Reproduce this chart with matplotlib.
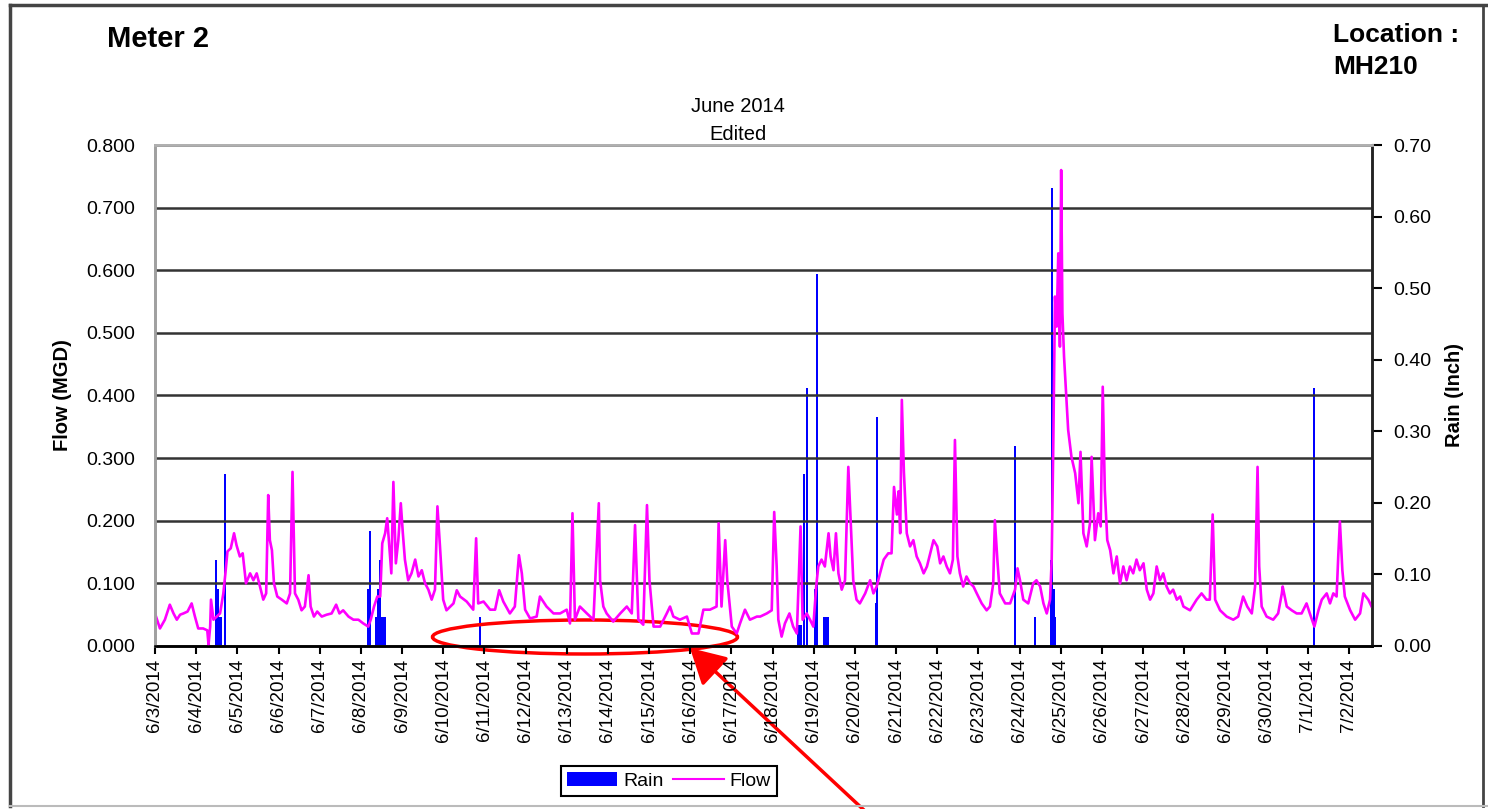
import matplotlib
matplotlib.use("Agg")
import matplotlib.pyplot as plt
from matplotlib.patches import Ellipse, FancyArrowPatch, Patch
from matplotlib.lines import Line2D

plt.rcParams['font.family'] = ['Liberation Sans', 'DejaVu Sans']

# days since 6/3/2014 00:00
flow_day = [
    0.00, 0.12, 0.24, 0.36, 0.45, 0.53, 0.61, 0.69, 0.79, 0.89, 0.97, 1.05, 1.17, 1.27, 1.30,
    1.34, 1.36, 1.42, 1.50, 1.58, 1.66, 1.71, 1.76, 1.84, 1.92, 1.98, 2.06, 2.13, 2.21, 2.31,
    2.39, 2.47, 2.55, 2.63, 2.70, 2.75, 2.79, 2.84, 2.89, 2.97, 3.08, 3.20, 3.28, 3.34, 3.40,
    3.48, 3.56, 3.64, 3.73, 3.78, 3.86, 3.94, 4.05, 4.17, 4.29, 4.40, 4.48, 4.57, 4.70, 4.82,
    4.94, 5.06, 5.18, 5.24, 5.32, 5.40, 5.47, 5.52, 5.59, 5.64, 5.69, 5.74, 5.79, 5.85, 5.91,
    5.97, 6.02, 6.07, 6.15, 6.23, 6.32, 6.40, 6.48, 6.56, 6.64, 6.72, 6.80, 6.86, 6.92, 7.00,
    7.08, 7.25, 7.33, 7.41, 7.57, 7.73, 7.80, 7.85, 7.98, 8.14, 8.26, 8.36, 8.46, 8.62, 8.74,
    8.84, 8.91, 8.99, 9.11, 9.27, 9.35, 9.51, 9.68, 9.84, 10.00, 10.08, 10.14, 10.20, 10.32,
    10.49, 10.65, 10.78, 10.81, 10.89, 10.97, 11.13, 11.30, 11.46, 11.58, 11.66, 11.74, 11.86,
    11.95, 12.01, 12.11, 12.27, 12.43, 12.51, 12.59, 12.75, 12.92, 13.04, 13.20, 13.32, 13.48,
    13.64, 13.69, 13.76, 13.85, 13.90, 14.01, 14.13, 14.21, 14.33, 14.45, 14.62, 14.70, 14.86,
    14.98, 15.04, 15.10, 15.14, 15.22, 15.30, 15.41, 15.50, 15.59, 15.68, 15.73, 15.83, 15.91,
    15.99, 16.06, 16.11, 16.19, 16.27, 16.36, 16.41, 16.48, 16.54, 16.60, 16.68, 16.76, 16.84,
    16.90, 16.96, 17.04, 17.12, 17.25, 17.37, 17.45, 17.53, 17.61, 17.70, 17.81, 17.89, 17.95,
    18.02, 18.06, 18.10, 18.14, 18.19, 18.26, 18.34, 18.42, 18.50, 18.58, 18.67, 18.75, 18.83,
    18.91, 19.00, 19.07, 19.15, 19.23, 19.31, 19.38, 19.43, 19.49, 19.55, 19.63, 19.71, 19.80,
    19.88, 19.96, 20.08, 20.20, 20.28, 20.36, 20.40, 20.46, 20.52, 20.65, 20.77, 20.89, 20.95,
    21.01, 21.09, 21.21, 21.33, 21.41, 21.50, 21.58, 21.66, 21.74, 21.78, 21.82, 21.86, 21.90,
    21.94, 21.98, 22.01, 22.04, 22.08, 22.13, 22.18, 22.26, 22.35, 22.43, 22.48, 22.55, 22.63,
    22.71, 22.75, 22.83, 22.91, 22.97, 23.02, 23.07, 23.13, 23.20, 23.28, 23.36, 23.44, 23.52,
    23.60, 23.68, 23.76, 23.84, 23.92, 24.01, 24.09, 24.17, 24.25, 24.33, 24.41, 24.49, 24.57,
    24.65, 24.73, 24.82, 24.90, 24.98, 25.14, 25.30, 25.42, 25.54, 25.62, 25.69, 25.75, 25.87,
    26.03, 26.19, 26.31, 26.43, 26.53, 26.64, 26.72, 26.78, 26.82, 26.88, 27.00, 27.16, 27.28,
    27.37, 27.39, 27.49, 27.61, 27.73, 27.85, 27.97, 28.05, 28.16, 28.26, 28.34, 28.46, 28.54,
    28.62, 28.70, 28.74, 28.78, 28.84, 28.90, 29.03, 29.15, 29.27, 29.35, 29.47, 29.55,
]
flow_mgd = [
    0.052, 0.028, 0.042, 0.066, 0.052, 0.042, 0.050, 0.052, 0.055, 0.068, 0.047, 0.028, 0.028, 0.025, 0.002,
    0.031, 0.074, 0.042, 0.047, 0.052, 0.084, 0.116, 0.151, 0.156, 0.180, 0.161, 0.143, 0.148, 0.100, 0.116,
    0.105, 0.116, 0.095, 0.074, 0.084, 0.241, 0.169, 0.153, 0.100, 0.079, 0.074, 0.068, 0.084, 0.278, 0.084,
    0.074, 0.057, 0.063, 0.113, 0.063, 0.047, 0.055, 0.047, 0.050, 0.052, 0.066, 0.052, 0.057, 0.047, 0.042,
    0.042, 0.036, 0.031, 0.042, 0.063, 0.079, 0.079, 0.164, 0.180, 0.204, 0.159, 0.116, 0.262, 0.132, 0.169,
    0.228, 0.180, 0.138, 0.105, 0.116, 0.138, 0.111, 0.121, 0.100, 0.090, 0.074, 0.090, 0.223, 0.161, 0.074,
    0.057, 0.068, 0.089, 0.079, 0.071, 0.058, 0.172, 0.068, 0.071, 0.058, 0.058, 0.089, 0.071, 0.052, 0.063,
    0.145, 0.116, 0.058, 0.044, 0.047, 0.079, 0.063, 0.052, 0.052, 0.058, 0.036, 0.212, 0.042, 0.063,
    0.052, 0.042, 0.228, 0.105, 0.063, 0.052, 0.039, 0.052, 0.063, 0.052, 0.193, 0.042, 0.034,
    0.225, 0.105, 0.031, 0.031, 0.052, 0.063, 0.047, 0.042, 0.047, 0.020, 0.020, 0.058, 0.058,
    0.063, 0.196, 0.063, 0.169, 0.105, 0.031, 0.020, 0.036, 0.058, 0.042, 0.047, 0.047, 0.052,
    0.057, 0.214, 0.127, 0.042, 0.015, 0.036, 0.052, 0.031, 0.020, 0.191, 0.042, 0.052, 0.042,
    0.031, 0.095, 0.127, 0.138, 0.127, 0.180, 0.143, 0.121, 0.180, 0.116, 0.090, 0.105, 0.286,
    0.196, 0.105, 0.074, 0.068, 0.084, 0.105, 0.084, 0.095, 0.116, 0.138, 0.148, 0.148, 0.254,
    0.210, 0.247, 0.180, 0.393, 0.278, 0.180, 0.159, 0.169, 0.143, 0.132, 0.116, 0.127, 0.148,
    0.169, 0.159, 0.132, 0.143, 0.127, 0.116, 0.138, 0.329, 0.143, 0.116, 0.095, 0.111, 0.100,
    0.095, 0.084, 0.068, 0.057, 0.063, 0.100, 0.201, 0.138, 0.084, 0.068, 0.068, 0.090, 0.124,
    0.105, 0.074, 0.068, 0.100, 0.105, 0.095, 0.068, 0.052, 0.074, 0.138, 0.329, 0.558, 0.510,
    0.627, 0.478, 0.760, 0.531, 0.462, 0.403, 0.345, 0.302, 0.276, 0.228, 0.310, 0.180, 0.159,
    0.196, 0.302, 0.169, 0.212, 0.191, 0.414, 0.249, 0.169, 0.153, 0.116, 0.143, 0.100, 0.127,
    0.105, 0.127, 0.116, 0.138, 0.121, 0.132, 0.090, 0.074, 0.084, 0.127, 0.105, 0.116, 0.095,
    0.084, 0.090, 0.074, 0.079, 0.063, 0.057, 0.074, 0.084, 0.074, 0.074, 0.210, 0.074, 0.057,
    0.047, 0.042, 0.047, 0.079, 0.063, 0.052, 0.095, 0.286, 0.127, 0.063, 0.047, 0.042, 0.052,
    0.084, 0.095, 0.063, 0.057, 0.052, 0.052, 0.068, 0.052, 0.031, 0.057, 0.074, 0.084, 0.068,
    0.084, 0.079, 0.143, 0.199, 0.121, 0.079, 0.057, 0.042, 0.052, 0.084, 0.074, 0.063,
]

rain_day = [1.49, 1.53, 1.57, 1.61, 1.70, 5.18, 5.22, 5.38, 5.42, 5.46, 5.50, 5.54, 5.58,
            7.89, 15.62, 15.66, 15.70, 15.77, 15.83, 16.02, 16.07, 16.26, 16.30, 16.34,
            17.51, 17.53, 20.89, 21.37, 21.76, 21.79, 21.83, 21.86, 28.16]
rain_in = [0.12, 0.08, 0.04, 0.04, 0.24, 0.08, 0.16, 0.04, 0.08, 0.12, 0.04, 0.04, 0.04,
           0.04, 0.03, 0.03, 0.03, 0.24, 0.36, 0.08, 0.52, 0.04, 0.04, 0.04,
           0.06, 0.32, 0.28, 0.04, 0.12, 0.64, 0.08, 0.04, 0.36]

date_labels = ['6/3/2014', '6/4/2014', '6/5/2014', '6/6/2014', '6/7/2014', '6/8/2014',
               '6/9/2014', '6/10/2014', '6/11/2014', '6/12/2014', '6/13/2014', '6/14/2014',
               '6/15/2014', '6/16/2014', '6/17/2014', '6/18/2014', '6/19/2014', '6/20/2014',
               '6/21/2014', '6/22/2014', '6/23/2014', '6/24/2014', '6/25/2014', '6/26/2014',
               '6/27/2014', '6/28/2014', '6/29/2014', '6/30/2014', '7/1/2014', '7/2/2014']
flow_ticks = [0.0, 0.1, 0.2, 0.3, 0.4, 0.5, 0.6, 0.7, 0.8]
rain_ticks = [0.0, 0.1, 0.2, 0.3, 0.4, 0.5, 0.6, 0.7]

W, H = 1488, 809


def fx(x):
    return x / W


def fy(y):
    return 1 - y / H


fig = plt.figure(figsize=(W / 100, H / 100), dpi=100)
ax = fig.add_axes([fx(155), fy(646), fx(1372) - fx(155), fy(145) - fy(646)])
ax2 = ax.twinx()

ax2.bar(rain_day, rain_in, width=0.05, color='#0000ff', linewidth=0)
ax.plot(flow_day, flow_mgd, color='#ff00ff', lw=1.9)

# line above the rain columns
ax.set_zorder(ax2.get_zorder() + 1)
ax.patch.set_visible(False)

ax.set_xlim(0, 29.56)
ax.set_ylim(0, 0.8)
ax2.set_ylim(0, 0.7)

ax.set_yticks(flow_ticks)
ax.set_yticklabels(['%.3f' % v for v in flow_ticks], fontsize=14)
ax2.set_yticks(rain_ticks)
ax2.set_yticklabels(['%.2f' % v for v in rain_ticks], fontsize=14)
ax.set_xticks(range(len(date_labels)))
ax.set_xticklabels(date_labels, rotation=90, fontsize=13.5, va='top', ha='center')

ax.yaxis.grid(True, color='#333333', lw=1.8)
ax.set_axisbelow(True)
ax.tick_params(axis='y', length=0, pad=14)
ax.tick_params(axis='x', direction='out', length=6, width=1.5, pad=3)
ax2.tick_params(axis='y', direction='out', length=7, width=1.5, pad=8)

for a in (ax, ax2):
    a.spines['top'].set_color('#b0b0b0')
    a.spines['top'].set_linewidth(2)
    a.spines['left'].set_color('#a0a0a0')
    a.spines['left'].set_linewidth(2)
    a.spines['bottom'].set_color('black')
    a.spines['bottom'].set_linewidth(1.8)
    a.spines['right'].set_color('#222222')
    a.spines['right'].set_linewidth(1.8)

fig.text(fx(62), fy(395), 'Flow (MGD)', rotation=90, ha='center', va='center',
         fontsize=14.5, fontweight='bold')
fig.text(fx(1455), fy(395), 'Rain (Inch)', rotation=90, ha='center', va='center',
         fontsize=14.5, fontweight='bold')
fig.text(fx(107), fy(39), 'Meter 2', ha='left', va='center', fontsize=21, fontweight='bold')
fig.text(fx(1333), fy(35), 'Location :', ha='left', va='center', fontsize=19, fontweight='bold')
fig.text(fx(1333), fy(67), 'MH210', ha='left', va='center', fontsize=19, fontweight='bold')
fig.text(fx(738), fy(107), 'June 2014', ha='center', va='center', fontsize=14.5)
fig.text(fx(738), fy(135), 'Edited', ha='center', va='center', fontsize=14.5)

handles = [Patch(facecolor='#0000ff', edgecolor='none'),
           Line2D([], [], color='#ff00ff', lw=1.5)]
fig.legend(handles, ['Rain', 'Flow'], loc='center', bbox_to_anchor=(fx(669), fy(781)),
           ncol=2, fontsize=14, frameon=True, fancybox=False, edgecolor='black',
           handlelength=2.6, handletextpad=0.3, columnspacing=0.5, borderpad=0.3,
           framealpha=1).get_frame().set_linewidth(1.5)

# outer frame of the page
fig.add_artist(Line2D([fx(10), fx(10)], [fy(5), fy(806)], color='#444444', lw=2.5))
fig.add_artist(Line2D([fx(10), 1], [fy(5), fy(5)], color='#444444', lw=2.5))
fig.add_artist(Line2D([fx(1483), fx(1483)], [fy(5), fy(806)], color='#444444', lw=2))
fig.add_artist(Line2D([fx(10), 1], [fy(806), fy(806)], color='#bbbbbb', lw=1.5))

# red highlight
fig.add_artist(Ellipse((fx(585), fy(637)), fx(305), 34 / H, fill=False,
                       edgecolor='red', lw=2.5, transform=fig.transFigure))
fig.add_artist(FancyArrowPatch((fx(866), fy(812)), (fx(690), fy(648)),
                               arrowstyle='-|>,head_length=0.9,head_width=0.5',
                               mutation_scale=24, color='red', lw=2.5,
                               shrinkA=0, shrinkB=0,
                               transform=fig.transFigure))

fig.savefig('out.png', dpi=100)
